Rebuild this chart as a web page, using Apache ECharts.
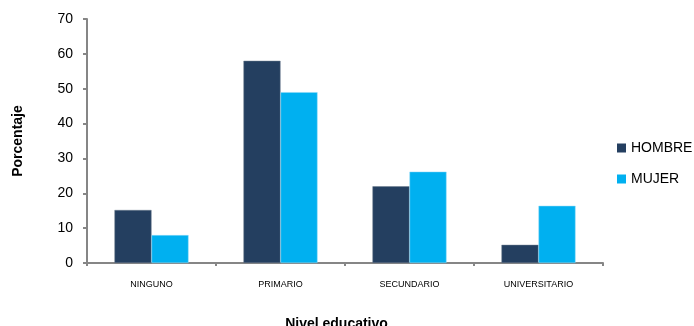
<!DOCTYPE html>
<html><head><meta charset="utf-8">
<script src="https://cdn.jsdelivr.net/npm/echarts@6/dist/echarts.min.js"></script>
<style>html,body{margin:0;padding:0;background:#fff}#c{width:694px;height:326px}</style>
</head><body><div id="c"></div>
<script>
const categories = ['NINGUNO', 'PRIMARIO', 'SECUNDARIO', 'UNIVERSITARIO'];
const hombre = [15.2, 58, 22, 5.2];
const mujer = [8, 49, 26.2, 16.4];
const seriesNames = ['HOMBRE', 'MUJER'];
const yTicks = [0, 10, 20, 30, 40, 50, 60, 70];

const chart = echarts.init(document.getElementById('c'), null, {renderer: 'canvas'});
const axisColor = '#868686';
chart.setOption({
  animation: false,
  grid: {left: 87, right: 91, top: 19, bottom: 63, containLabel: false, outerBoundsMode: 'none'},
  legend: {
    orient: 'vertical', left: 617, top: 141, padding: 0, itemWidth: 9, itemHeight: 9, itemGap: 17,
    icon: 'rect', data: seriesNames,
    itemStyle: {borderWidth: 0},
    textStyle: {fontFamily: 'Liberation Sans, Arial', fontSize: 14, color: '#000'}
  },
  xAxis: {
    type: 'category', data: categories,
    name: 'Nivel educativo', nameLocation: 'middle', nameGap: 54,
    nameTextStyle: {fontFamily: 'Liberation Sans, Arial', fontWeight: 'bold', fontSize: 14, color: '#000', padding: [0, 17, 0, 0]},
    axisLine: {lineStyle: {color: axisColor, width: 2}},
    axisTick: {show: true, length: 3, lineStyle: {color: axisColor, width: 2}},
    axisLabel: {fontFamily: 'Liberation Sans, Arial', fontSize: 9, color: '#000', margin: 17}
  },
  yAxis: {
    type: 'value', min: yTicks[0], max: yTicks[yTicks.length - 1], interval: 10,
    name: 'Porcentaje', nameLocation: 'middle', nameGap: 62, nameRotate: 90,
    nameTextStyle: {fontFamily: 'Liberation Sans, Arial', fontWeight: 'bold', fontSize: 14, color: '#000'},
    axisLine: {show: true, lineStyle: {color: axisColor, width: 2}},
    axisTick: {show: true, length: 4, lineStyle: {color: axisColor, width: 2}},
    splitLine: {show: false},
    axisLabel: {fontFamily: 'Liberation Sans, Arial', fontSize: 14, color: '#000', margin: 14}
  },
  series: [
    {name: seriesNames[0], type: 'bar', data: hombre, barWidth: '28.7%', barGap: '0%',
     itemStyle: {color: '#243F60', borderColor: '#6a7a8c', borderWidth: 0.5}},
    {name: seriesNames[1], type: 'bar', data: mujer, barWidth: '28.7%', barGap: '0%',
     itemStyle: {color: '#00B0F0', borderColor: '#8fd9f6', borderWidth: 0.5}}
  ]
});
</script></body></html>
